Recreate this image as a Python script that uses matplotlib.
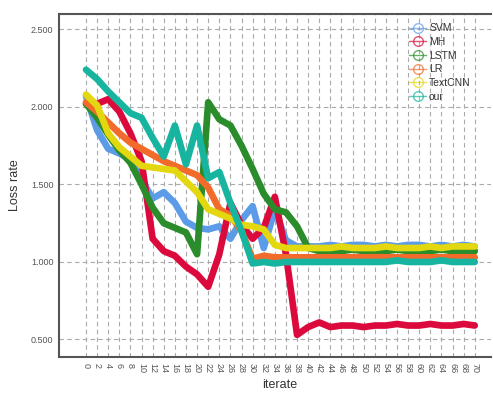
import matplotlib.pyplot as plt
import numpy as np
from matplotlib.lines import Line2D

plt.rcParams['font.family'] = ['Liberation Sans', 'DejaVu Sans']

iterations = list(range(0, 72, 2))

svm = [2.07, 1.85, 1.73, 1.70, 1.66, 1.53, 1.41, 1.45, 1.38, 1.26, 1.22, 1.21,
       1.23, 1.15, 1.27, 1.36, 1.09, 1.34, 1.14, 1.10, 1.10, 1.10, 1.11, 1.10,
       1.11, 1.11, 1.10, 1.11, 1.10, 1.11, 1.11, 1.10, 1.11, 1.10, 1.11, 1.10]
mh = [2.02, 2.02, 2.05, 1.97, 1.83, 1.65, 1.15, 1.07, 1.04, 0.97, 0.92, 0.84,
      1.05, 1.38, 1.24, 1.15, 1.22, 1.42, 1.05, 0.53, 0.58, 0.61, 0.58, 0.59,
      0.59, 0.58, 0.59, 0.59, 0.60, 0.59, 0.59, 0.60, 0.59, 0.59, 0.60, 0.59]
lstm = [2.02, 1.93, 1.82, 1.72, 1.64, 1.50, 1.35, 1.25, 1.22, 1.19, 1.05, 2.03,
        1.92, 1.88, 1.75, 1.60, 1.44, 1.34, 1.32, 1.23, 1.09, 1.07, 1.07, 1.07,
        1.08, 1.07, 1.07, 1.07, 1.08, 1.07, 1.07, 1.07, 1.08, 1.07, 1.07, 1.07]
lr = [2.03, 1.97, 1.90, 1.83, 1.77, 1.73, 1.69, 1.65, 1.62, 1.59, 1.56, 1.48,
      1.34, 1.30, 1.20, 1.02, 1.04, 1.03, 1.03, 1.03, 1.03, 1.03, 1.03, 1.03,
      1.03, 1.03, 1.03, 1.03, 1.03, 1.03, 1.03, 1.03, 1.03, 1.03, 1.03, 1.03]
textcnn = [2.08, 2.01, 1.83, 1.74, 1.68, 1.62, 1.61, 1.60, 1.59, 1.52, 1.45, 1.34,
           1.31, 1.28, 1.24, 1.23, 1.21, 1.11, 1.09, 1.09, 1.09, 1.09, 1.09, 1.10,
           1.09, 1.09, 1.09, 1.10, 1.09, 1.09, 1.09, 1.10, 1.09, 1.10, 1.10, 1.10]
our = [2.24, 2.18, 2.10, 2.03, 1.96, 1.93, 1.80, 1.68, 1.88, 1.63, 1.88, 1.54,
       1.58, 1.38, 1.20, 0.99, 1.00, 0.99, 1.00, 1.00, 1.00, 1.00, 1.00, 1.00,
       1.00, 1.00, 1.00, 1.00, 1.01, 1.00, 1.00, 1.00, 1.01, 1.00, 1.00, 1.00]

names = ['SVM', 'MH', 'LSTM', 'LR', 'TextCNN', 'our']
series = [svm, mh, lstm, lr, textcnn, our]
colors = ['#5b9be8', '#dc0a3c', '#2a8c2a', '#f26b2a', '#e3d80f', '#17b5a0']

fig = plt.figure(figsize=(4.93, 3.93), dpi=100)
ax = fig.add_axes([0.1197, 0.0916, 0.876, 0.873])

for vals, c in zip(series, colors):
    ax.plot(iterations, vals, color=c, lw=4.8, solid_joinstyle='round',
            solid_capstyle='round')

ax.set_xlim(-4.86, 72.9)
ax.set_ylim(0.387, 2.60)
ax.set_xticks(iterations)
ax.set_xticklabels([str(i) for i in iterations], rotation=-90)
ax.set_yticks([0.5, 1.0, 1.5, 2.0, 2.5])
ax.set_yticklabels(['0.500', '1.000', '1.500', '2.000', '2.500'])
ax.tick_params(length=0, labelsize=6.5, labelcolor='#555555', pad=4)

ax.grid(True, color='#aaaaaa', linestyle=(0, (4, 3)), lw=0.8)
ax.set_axisbelow(True)
for side in ['left', 'bottom', 'top']:
    ax.spines[side].set_color('#555555')
    ax.spines[side].set_linewidth(1.5)
ax.spines['right'].set_visible(False)

# axis titles placed by hand so they sit where the layout needs them
fig.text(280 / 493, 1 - 385 / 393, 'iterate', fontsize=9, color='#333333',
         ha='center', va='center')
fig.text(15 / 493, 1 - 185 / 393, 'Loss rate', fontsize=9, color='#333333',
         ha='center', va='center', rotation=90)

handles = [Line2D([], [], color=c, lw=1, marker='o', markersize=7,
                  markerfacecolor='none', alpha=0.7) for c in colors]
ax.legend(handles, names, loc='upper right', bbox_to_anchor=(0.975, 1.0),
          frameon=False, fontsize=7.5, handlelength=1.6, handletextpad=0.3,
          labelspacing=0.35, labelcolor='#333333')

fig.savefig('out.png', dpi=100)
